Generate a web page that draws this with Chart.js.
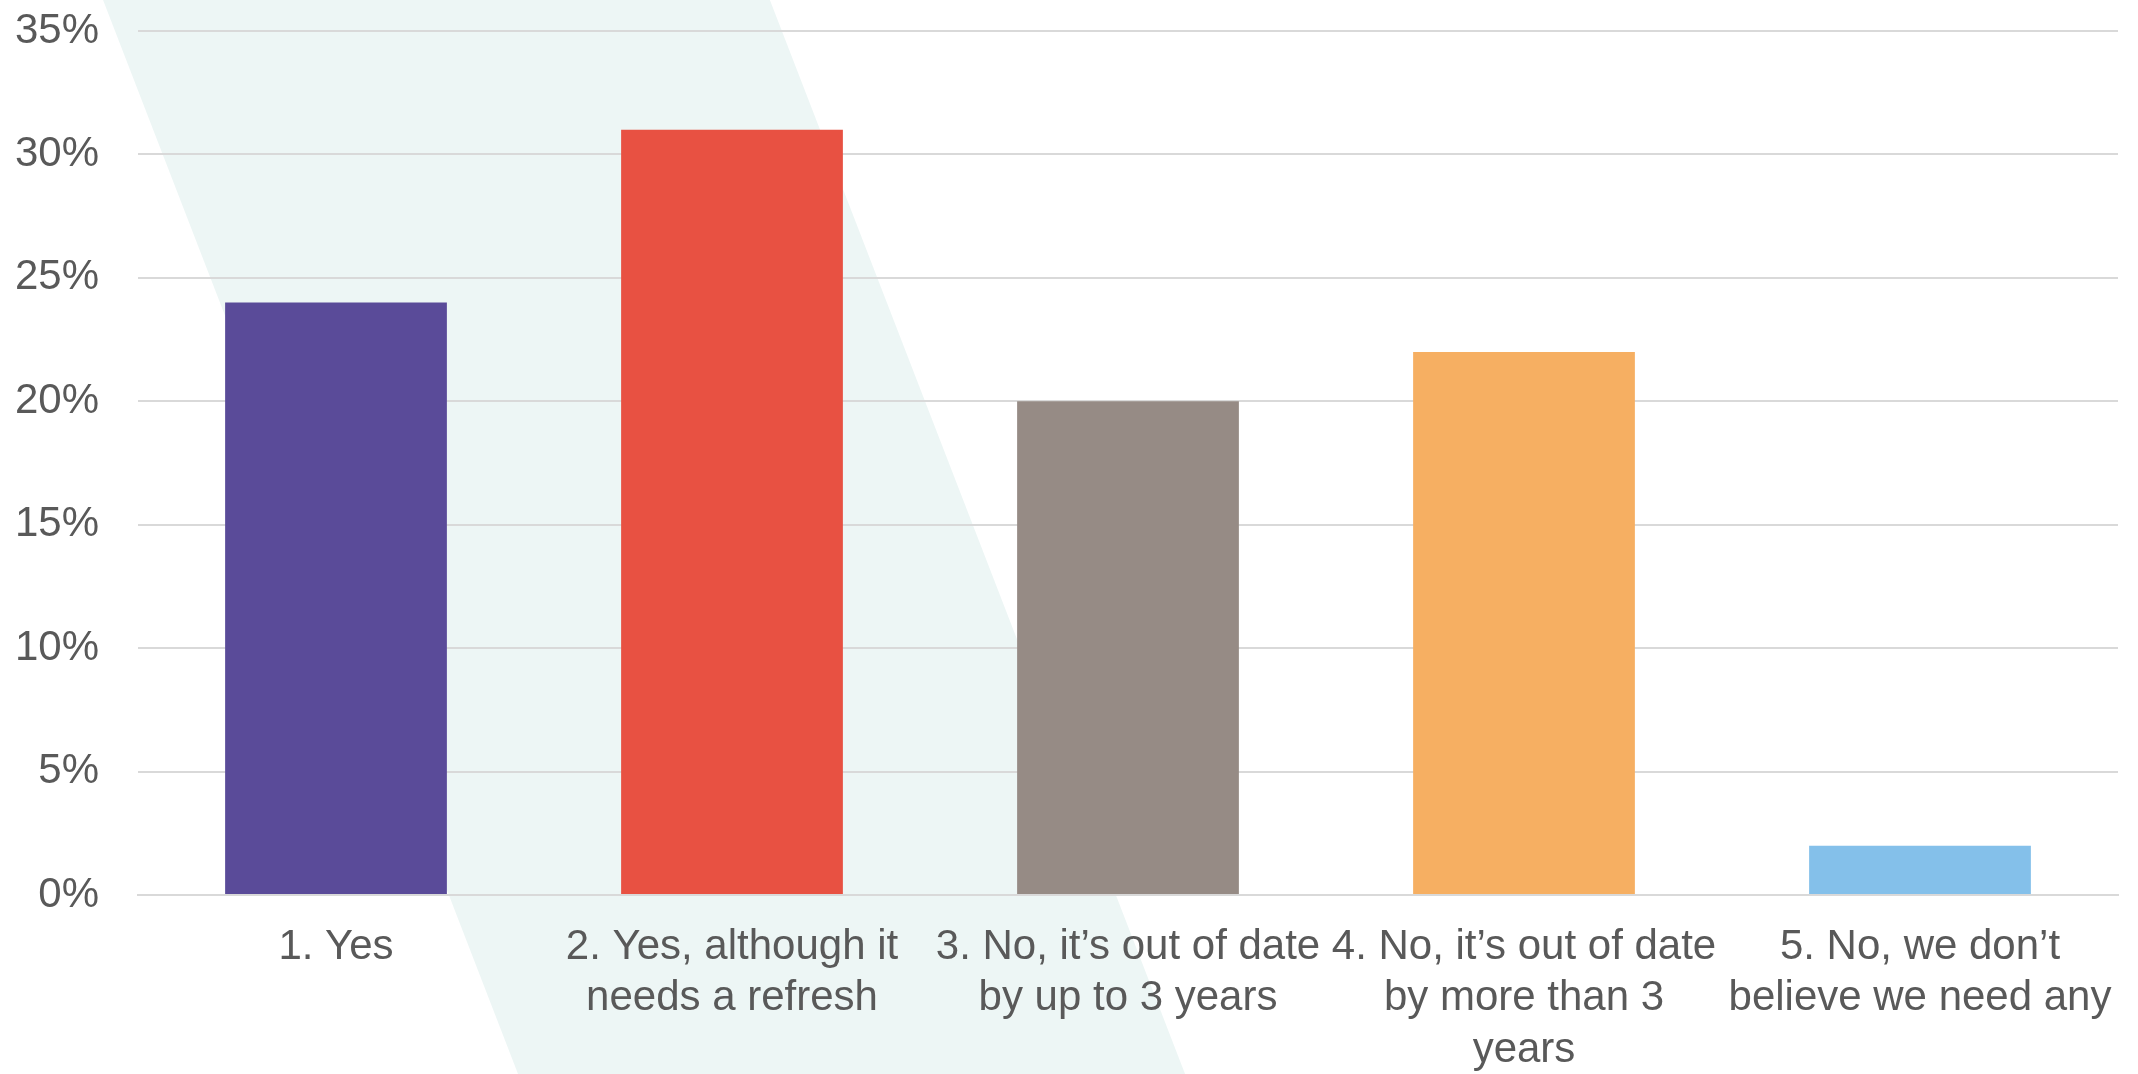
<!DOCTYPE html>
<html>
<head>
  <title>Survey Chart</title>
  <script src="https://cdn.jsdelivr.net/npm/chart.js"></script>
  <style>
    html, body { margin: 0; padding: 0; background: #fff; }
    canvas { display: block; }
  </style>
</head>
<body>
  <canvas id="surveyChart" width="2138" height="1074"></canvas>

  <script>
    const categories = [
      ['1. Yes'],
      ['2. Yes, although it', 'needs a refresh'],
      ['3. No, it\u2019s out of date', 'by up to 3 years'],
      ['4. No, it\u2019s out of date', 'by more than 3', 'years'],
      ['5. No, we don\u2019t', 'believe we need any']
    ];
    const percentages = [24, 31, 20, 22, 2];
    const barColors = ['#5A4B99', '#E85142', '#968B85', '#F6AF62', '#84C0EA'];
    const yTicks = [0, 5, 10, 15, 20, 25, 30, 35];

    // light diagonal band behind the plot
    const bandPlugin = {
      id: 'band',
      beforeDraw(chart) {
        const ctx = chart.ctx;
        const w = chart.width, h = chart.height;
        ctx.save();
        ctx.fillStyle = '#EDF6F5';
        ctx.beginPath();
        ctx.moveTo(w * 0.0482, 0);
        ctx.lineTo(w * 0.3601, 0);
        ctx.lineTo(w * 0.5543, h);
        ctx.lineTo(w * 0.2423, h);
        ctx.closePath();
        ctx.fill();
        ctx.restore();
      }
    };

    Chart.defaults.font.family = '"Liberation Sans", Arial, sans-serif';
    Chart.defaults.color = '#595959';

    new Chart(document.getElementById('surveyChart'), {
      type: 'bar',
      data: {
        labels: categories,
        datasets: [{
          data: percentages,
          backgroundColor: barColors,
          categoryPercentage: 1,
          barPercentage: 0.56
        }]
      },
      options: {
        responsive: false,
        animation: false,
        layout: { padding: { top: 0, right: 20, left: 0, bottom: 0 } },
        plugins: {
          legend: { display: false },
          tooltip: { enabled: false }
        },
        scales: {
          x: {
            grid: { display: false, drawTicks: false },
            border: { display: true, color: '#D9D9D9', width: 2 },
            ticks: {
              font: { size: 42, lineHeight: 1.22 },
              padding: 27,
              maxRotation: 0,
              minRotation: 0,
              autoSkip: false
            },
            afterFit(scale) {
              scale.height = 179;
              scale.paddingLeft = 0;
              scale.paddingRight = 0;
            }
          },
          y: {
            min: 0,
            max: 35,
            afterBuildTicks(scale) {
              scale.ticks = yTicks.map(v => ({ value: v }));
            },
            grid: { color: '#D9D9D9', lineWidth: 2, drawTicks: false },
            border: { display: false },
            ticks: {
              font: { size: 42 },
              padding: 39,
              callback: v => v + '%'
            },
            afterFit(scale) {
              scale.width = 138;
              scale.paddingTop = 31;
              scale.paddingBottom = 0;
            }
          }
        }
      },
      plugins: [bandPlugin]
    });
  </script>
</body>
</html>
